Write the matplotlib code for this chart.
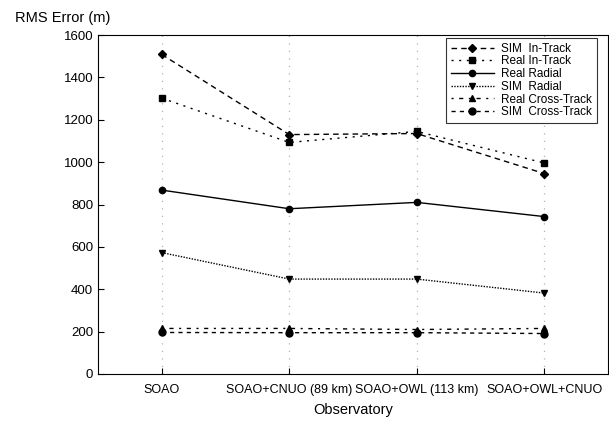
import matplotlib.pyplot as plt
import numpy as np

plt.rcParams['font.family'] = ['Liberation Sans', 'DejaVu Sans']

observatories = ['SOAO', 'SOAO+CNUO (89 km)', 'SOAO+OWL (113 km)', 'SOAO+OWL+CNUO']
sim_in_track = [1508, 1130, 1135, 946]
real_in_track = [1302, 1093, 1145, 996]
real_radial = [868, 780, 810, 743]
sim_radial = [573, 448, 448, 382]
real_cross = [215, 215, 210, 215]
sim_cross = [196, 195, 195, 191]

fig = plt.figure(figsize=(6.09, 4.22), dpi=100)
ax = fig.add_axes([98 / 609, 48 / 422, 510 / 609, 339 / 422])

x = np.arange(len(observatories))
ms = 4.5
ax.plot(x, sim_in_track, color='black', lw=1, linestyle=(0, (4, 3)), marker='D', ms=ms, label='SIM  In-Track')
ax.plot(x, real_in_track, color='black', lw=1, linestyle=(0, (1.5, 4)), marker='s', ms=ms + 0.5, label='Real In-Track')
ax.plot(x, real_radial, color='black', lw=1, linestyle='-', marker='o', ms=ms, label='Real Radial')
ax.plot(x, sim_radial, color='black', lw=1, linestyle=(0, (1, 1)), marker='v', ms=ms + 0.5, label='SIM  Radial')
ax.plot(x, real_cross, color='black', lw=1, linestyle=(0, (1.5, 4, 3, 4)), marker='^', ms=ms + 0.5, label='Real Cross-Track')
ax.plot(x, sim_cross, color='black', lw=1, linestyle=(0, (3, 3)), marker='o', ms=ms + 0.5, label='SIM  Cross-Track')

ax.set_xlim(-0.5, 3.5)
ax.set_ylim(0, 1600)
ax.set_yticks(np.arange(0, 1601, 200))
ax.set_xticks(x)
ax.set_xticklabels(observatories)
ax.tick_params(direction='in', length=4, width=0.8, labelsize=9, colors='black')
ax.tick_params(axis='y', labelsize=9.5)
ax.tick_params(axis='x', pad=7)
ax.grid(axis='x', color='#b0b0b0', linestyle=(0, (1, 5)), lw=0.9)
for s in ax.spines.values():
    s.set_linewidth(0.8)

ax.set_xlabel('Observatory', fontsize=10.5, labelpad=5)
fig.text(15 / 609, 1 - 18 / 422, 'RMS Error (m)', fontsize=10.5, va='center', ha='left')

leg = ax.legend(loc='upper right', bbox_to_anchor=(597 / 609, 1 - 38 / 422),
                bbox_transform=fig.transFigure, fontsize=8.5, frameon=True,
                fancybox=False, edgecolor='black', borderaxespad=0,
                handlelength=3.7, handletextpad=0.6, labelspacing=0.06, borderpad=0.4)
leg.get_frame().set_linewidth(0.8)

fig.savefig('out.png', dpi=100)
